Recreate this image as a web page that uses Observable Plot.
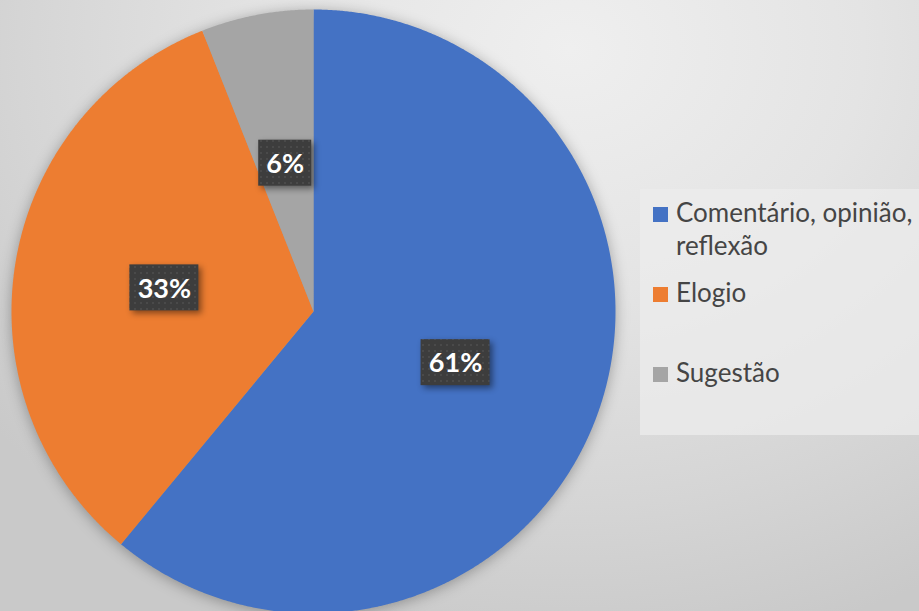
<!DOCTYPE html>
<html>
<head>
<meta charset="utf-8">
<script src="https://cdn.jsdelivr.net/npm/d3@7"></script>
<script src="https://cdn.jsdelivr.net/npm/@observablehq/plot@0.6"></script>
<style>
  html, body { margin: 0; padding: 0; }
  #wrap {
    position: relative; width: 919px; height: 611px; overflow: hidden;
    background: radial-gradient(ellipse 80% 100% at 62% 8%, #efefef 0%, #e4e4e4 40%, #d5d5d5 75%, #c9c9c9 100%);
    font-family: Lato, "Open Sans", sans-serif;
  }
  #legend {
    position: absolute; left: 640px; top: 189px; width: 279px; height: 246px;
    background: rgba(236,236,236,0.75);
  }
  .item { position: absolute; left: 13px; color: #454545; font-size: 26px; line-height: 33px; }
  .sw { position: absolute; left: 0; width: 15px; height: 15px; }
  .tx { position: absolute; left: 23px; width: 256px; white-space: normal; }
</style>
</head>
<body>
<div id="wrap"><div id="legend"></div></div>
<script>
const categories = ["Comentário, opinião, reflexão", "Elogio", "Sugestão"];
const values = [61, 33, 6];
const valueLabels = ["61%", "33%", "6%"];
const colors = ["#4472C4", "#ED7D31", "#A5A5A5"];

const W = 919, H = 611, cx = 313, cy = 311, R = 302;

const arcs = d3.pie().sort(null).value(d => d)(values);

// slice outlines (geometry derived from the pie angles)
const slicePts = [];
arcs.forEach((a, i) => {
  const cat = categories[i];
  const n = Math.max(2, Math.ceil((a.endAngle - a.startAngle) / 0.005));
  slicePts.push({cat, x: cx, y: cy});
  for (let k = 0; k <= n; k++) {
    const t = a.startAngle + (a.endAngle - a.startAngle) * k / n;
    slicePts.push({cat, x: cx + R * Math.sin(t), y: cy - R * Math.cos(t)});
  }
  slicePts.push({cat, x: cx, y: cy});
});

const labelData = arcs.map((a, i) => {
  const m = (a.startAngle + a.endAngle) / 2;
  const w = valueLabels[i].length > 2 ? 69 : 53;
  return {label: valueLabels[i], x: cx + R * 0.5 * Math.sin(m), y: cy - R * 0.5 * Math.cos(m), w, h: 46};
});

const chart = Plot.plot({
  width: W, height: H,
  margin: 0,
  style: {background: "transparent"},
  x: {domain: [0, W], range: [0, W], axis: null},
  y: {domain: [0, H], range: [0, H], axis: null},
  color: {domain: categories, range: colors},
  marks: [
    Plot.line(slicePts, {x: "x", y: "y", z: "cat", fill: "cat", stroke: "none", curve: "linear", className: "slices"}),
    Plot.rect(labelData, {x1: d => d.x - d.w / 2, x2: d => d.x + d.w / 2, y1: d => d.y - d.h / 2, y2: d => d.y + d.h / 2, fill: "#3f3f3f", className: "lblbox"}),
    Plot.text(labelData, {x: "x", y: "y", text: "label", fill: "white", fontSize: 27, fontWeight: "bold", fontFamily: "Lato", dy: 1})
  ]
});

const svg = d3.select(chart);
const defs = svg.insert("defs", ":first-child");
const pat = defs.append("pattern").attr("id", "dots").attr("width", 6).attr("height", 6).attr("patternUnits", "userSpaceOnUse");
pat.append("rect").attr("width", 6).attr("height", 6).attr("fill", "#3d3d3d");
pat.append("rect").attr("x", 2).attr("y", 2).attr("width", 2).attr("height", 2).attr("fill", "#4a4a4a");
svg.selectAll(".slices").style("filter", "drop-shadow(0px 2px 7px rgba(0,0,0,0.3))");
svg.selectAll(".lblbox").style("filter", "drop-shadow(3px 3px 3px rgba(0,0,0,0.45))");
svg.selectAll(".lblbox rect").attr("fill", "url(#dots)");

document.getElementById("wrap").prepend(chart);
chart.style.position = "absolute"; chart.style.left = "0"; chart.style.top = "0";

const tops = [196, 276, 356];
const legend = d3.select("#legend");
categories.forEach((c, i) => {
  const it = legend.append("div").attr("class", "item").style("top", (tops[i] - 189) + "px");
  it.append("div").attr("class", "sw").style("top", "11px").style("background", colors[i]);
  it.append("div").attr("class", "tx").text(c);
});
</script>
</body>
</html>
